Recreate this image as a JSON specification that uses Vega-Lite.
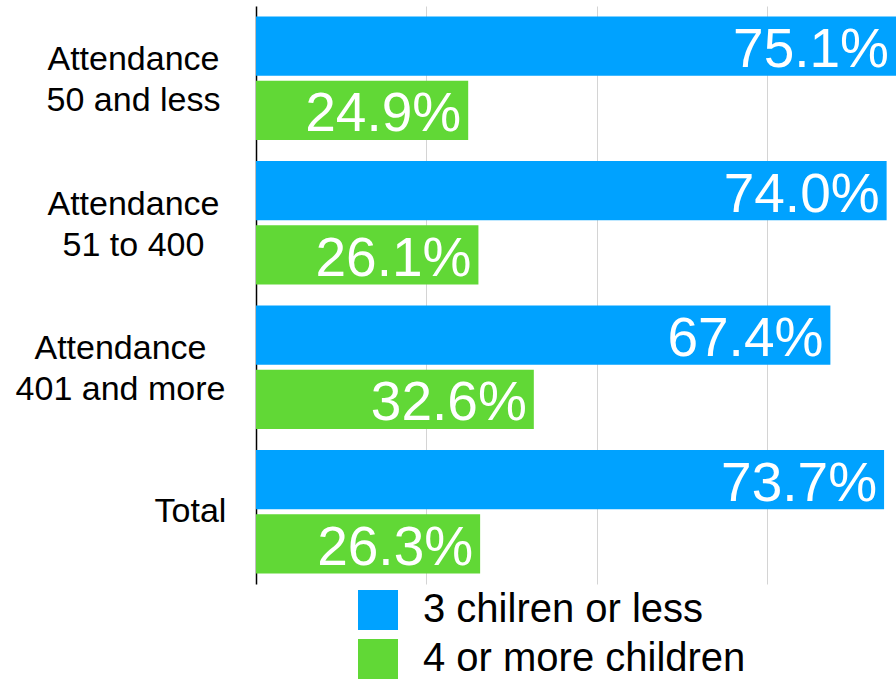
{
  "$schema": "https://vega.github.io/schema/vega-lite/v6.json",
  "width": 640,
  "height": 578,
  "autosize": {"type": "none"},
  "padding": {"left": 256, "top": 6, "right": 0, "bottom": 97},
  "background": "white",
  "config": {"view": {"stroke": null}, "font": "Liberation Sans"},
  "data": {
    "values": [
      {"group": "Attendance|50 and less", "series": "3 chilren or less", "share": 0.751},
      {"group": "Attendance|50 and less", "series": "4 or more children", "share": 0.249},
      {"group": "Attendance|51 to 400", "series": "3 chilren or less", "share": 0.740},
      {"group": "Attendance|51 to 400", "series": "4 or more children", "share": 0.261},
      {"group": "Attendance|401 and more", "series": "3 chilren or less", "share": 0.674},
      {"group": "Attendance|401 and more", "series": "4 or more children", "share": 0.326},
      {"group": "Total", "series": "3 chilren or less", "share": 0.737},
      {"group": "Total", "series": "4 or more children", "share": 0.263}
    ]
  },
  "encoding": {
    "y": {
      "field": "group",
      "type": "nominal",
      "sort": null,
      "scale": {"paddingInner": 0, "paddingOuter": 0},
      "axis": {
        "title": null,
        "ticks": false,
        "tickSize": 0,
        "grid": false,
        "domainColor": "black",
        "domainWidth": 1.5,
        "labelFont": "Liberation Sans",
        "labelFontSize": 34,
        "labelColor": "black",
        "labelAlign": "center",
        "labelBaseline": "middle",
        "labelLineHeight": 41,
        "labelLimit": 0,
        "labelExpr": "split(datum.label, '|')",
        "labelOffset": {
          "condition": {"test": "datum.value === 'Total'", "value": 0},
          "value": -18
        },
        "labelPadding": {
          "condition": [
            {"test": "datum.value === 'Total'", "value": 66},
            {"test": "datum.value === 'Attendance|401 and more'", "value": 136}
          ],
          "value": 123
        }
      }
    },
    "yOffset": {
      "field": "series",
      "type": "nominal",
      "sort": null,
      "scale": {"paddingInner": 0.078, "paddingOuter": 0.164}
    },
    "x": {
      "field": "share",
      "type": "quantitative",
      "scale": {"domain": [0, 0.751], "nice": false, "zero": true},
      "axis": {
        "values": [0.2, 0.4, 0.6],
        "labels": false,
        "ticks": false,
        "domain": false,
        "title": null,
        "grid": true,
        "gridColor": "#d4d4d4",
        "gridWidth": 1
      }
    }
  },
  "layer": [
    {
      "mark": {"type": "bar"},
      "encoding": {
        "color": {
          "field": "series",
          "type": "nominal",
          "sort": null,
          "scale": {"range": ["#00A2FF", "#61D836"]},
          "legend": {
            "title": null,
            "orient": "none",
            "legendX": 102,
            "legendY": 584,
            "direction": "vertical",
            "padding": 0,
            "symbolType": "square",
            "symbolSize": 1600,
            "symbolStrokeWidth": 0,
            "symbolOpacity": 1,
            "rowPadding": 9,
            "labelOffset": 25,
            "labelFont": "Liberation Sans",
            "labelFontSize": 40,
            "labelColor": "black",
            "labelBaseline": "middle",
            "labelLimit": 0
          }
        }
      }
    },
    {
      "mark": {
        "type": "text",
        "align": "right",
        "baseline": "alphabetic",
        "dx": -7,
        "dy": 21,
        "fontSize": 55,
        "font": "Liberation Sans",
        "color": "white"
      },
      "encoding": {
        "text": {"field": "share", "type": "quantitative", "format": ".1%"}
      }
    }
  ]
}
